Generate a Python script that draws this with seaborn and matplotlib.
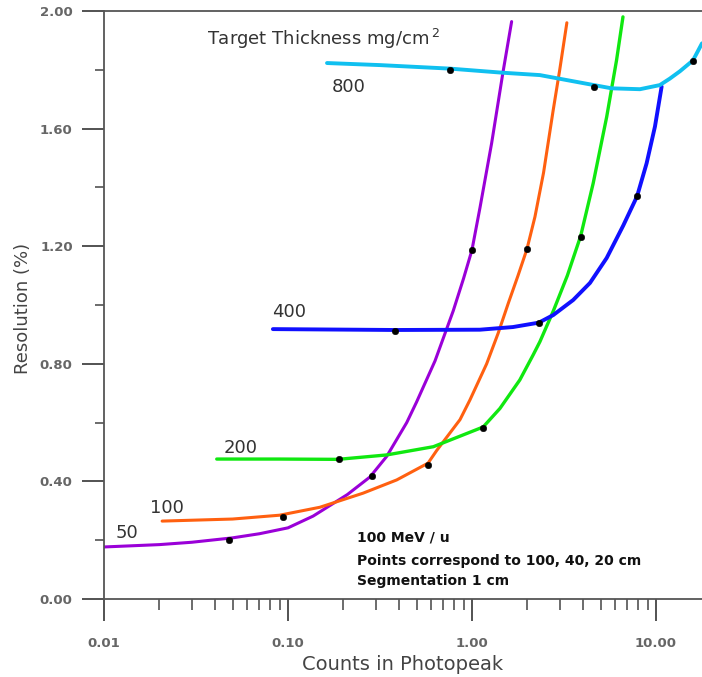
import numpy as np
import pandas as pd
import matplotlib
matplotlib.use("Agg")
import matplotlib.pyplot as plt
import seaborn as sns
from matplotlib.ticker import FixedLocator, NullFormatter, LogLocator

# ---- data ----
thick = ["50", "100", "200", "400", "800"]

x50 = [0.01, 0.02, 0.03, 0.05, 0.07, 0.10, 0.137, 0.21, 0.279, 0.344, 0.442, 0.50, 0.63, 0.791, 0.90, 1.0, 1.105, 1.279, 1.473, 1.643]
y50 = [0.177, 0.185, 0.193, 0.208, 0.222, 0.242, 0.282, 0.355, 0.415, 0.485, 0.60, 0.67, 0.81, 0.98, 1.09, 1.187, 1.33, 1.55, 1.79, 1.964]

x100 = [0.0207, 0.05, 0.09, 0.149, 0.256, 0.39, 0.577, 0.643, 0.861, 0.975, 1.202, 1.39, 1.574, 1.78, 1.99, 2.2, 2.45, 2.76, 3.0, 3.28]
y100 = [0.265, 0.272, 0.285, 0.312, 0.36, 0.405, 0.462, 0.505, 0.61, 0.677, 0.80, 0.905, 1.005, 1.10, 1.19, 1.30, 1.45, 1.66, 1.80, 1.96]

x200 = [0.041, 0.09, 0.187, 0.344, 0.617, 1.15, 1.419, 1.82, 2.15, 2.34, 2.77, 3.3, 3.9, 4.56, 5.40, 6.11, 6.62]
y200 = [0.476, 0.476, 0.475, 0.490, 0.518, 0.585, 0.648, 0.745, 0.83, 0.875, 0.98, 1.10, 1.235, 1.414, 1.64, 1.833, 1.98]

x400 = [0.0828, 0.382, 1.105, 1.67, 2.31, 2.77, 3.55, 4.38, 5.40, 6.64, 7.9, 8.90, 9.88, 10.74]
y400 = [0.918, 0.915, 0.916, 0.925, 0.94, 0.966, 1.017, 1.075, 1.16, 1.27, 1.37, 1.482, 1.607, 1.743]

x800 = [0.163, 0.316, 0.76, 1.473, 2.34, 4.0, 5.74, 8.19, 10.5, 11.9, 13.5, 15.9, 17.8]
y800 = [1.823, 1.816, 1.804, 1.79, 1.782, 1.755, 1.737, 1.734, 1.748, 1.77, 1.795, 1.832, 1.89]

px50, py50 = [0.048, 0.286, 1.0], [0.200, 0.418, 1.187]
px100, py100 = [0.094, 0.577, 1.99], [0.280, 0.456, 1.19]
px200, py200 = [0.189, 1.15, 3.9], [0.476, 0.58, 1.23]
px400, py400 = [0.38, 2.31, 7.9], [0.91, 0.94, 1.37]
px800, py800 = [0.76, 4.6, 15.9], [1.80, 1.74, 1.83]

colors = {"50": "#9a00d8", "100": "#ff6010", "200": "#10e810", "400": "#1010ff", "800": "#10c0f0"}
widths = {"50": 2.2, "100": 2.2, "200": 2.4, "400": 2.8, "800": 2.8}

curves = {t: pd.DataFrame({"x": x, "y": y}) for t, x, y in
          zip(thick, [x50, x100, x200, x400, x800], [y50, y100, y200, y400, y800])}
points = pd.concat([
    pd.DataFrame({"x": x, "y": y, "t": t})
    for t, x, y in zip(thick, [px50, px100, px200, px400, px800], [py50, py100, py200, py400, py800])
])

sns.set_style("white")
plt.rcParams["font.family"] = ["DejaVu Sans"]

fig = plt.figure(figsize=(7.02, 6.77), dpi=100)
ax = fig.add_axes([104 / 702, 78 / 677, 598 / 702, 588 / 677])

for t in thick:
    sns.lineplot(data=curves[t], x="x", y="y", color=colors[t], estimator=None,
                 sort=False, linewidth=widths[t], legend=False, ax=ax, zorder=2)
sns.scatterplot(data=points, x="x", y="y", color="black", s=22, edgecolor="black",
                legend=False, ax=ax, zorder=3)

ax.set_xscale("log")
ax.set_xlim(0.01, 17.8)
ax.set_ylim(0, 2.0)

ax.set_xticks([0.01, 0.1, 1, 10])
ax.set_xticklabels(["0.01", "0.10", "1.00", "10.00"])
ax.xaxis.set_minor_locator(LogLocator(base=10, subs=np.arange(2, 10)))
ax.xaxis.set_minor_formatter(NullFormatter())
ax.set_yticks([0, 0.4, 0.8, 1.2, 1.6, 2.0])
ax.set_yticklabels(["0.00", "0.40", "0.80", "1.20", "1.60", "2.00"])
ax.yaxis.set_minor_locator(FixedLocator([0.2, 0.6, 1.0, 1.4, 1.8]))

ax.tick_params(axis="both", which="both", bottom=True, left=True, top=False, right=False)
ax.tick_params(axis="both", which="major", direction="out", length=15.5, width=1.3,
               color="#444444", labelsize=9.5, labelcolor="#666666")
ax.tick_params(axis="y", which="minor", direction="out", length=6.5, width=1.1, color="#444444")
ax.tick_params(axis="x", which="minor", direction="out", length=8, width=1.1, color="#444444")
ax.tick_params(axis="y", which="major", pad=7)
ax.tick_params(axis="x", which="major", pad=12)
for lab in ax.get_xticklabels() + ax.get_yticklabels():
    lab.set_fontweight("bold")

for s in ["left", "bottom", "top"]:
    ax.spines[s].set_visible(True)
    ax.spines[s].set_color("#555555")
    ax.spines[s].set_linewidth(1.3)
ax.spines["right"].set_visible(False)

ax.set_xlabel("Counts in Photopeak", fontsize=14, color="#444444")
ax.set_ylabel("Resolution (%)", fontsize=13, color="#444444")
ax.xaxis.set_label_coords(0.5, -0.096)
ax.yaxis.set_label_coords(-0.12, 0.495)

lab_kw = dict(fontsize=13, color="#333333")
ax.text(0.0115, 0.207, "50", **lab_kw)
ax.text(0.0178, 0.293, "100", **lab_kw)
ax.text(0.0449, 0.497, "200", **lab_kw)
ax.text(0.0819, 0.959, "400", **lab_kw)
ax.text(0.1733, 1.724, "800", **lab_kw)
ax.text(0.0363, 1.884, "Target Thickness mg/cm$^{\\,2}$", fontsize=13, color="#333333")

note_kw = dict(fontsize=10, fontweight="bold", color="#111111")
ax.text(0.237, 0.194, "100 MeV / u", **note_kw)
ax.text(0.237, 0.116, "Points correspond to 100, 40, 20 cm", **note_kw)
ax.text(0.237, 0.048, "Segmentation 1 cm", **note_kw)

fig.savefig("out.png", dpi=100)
